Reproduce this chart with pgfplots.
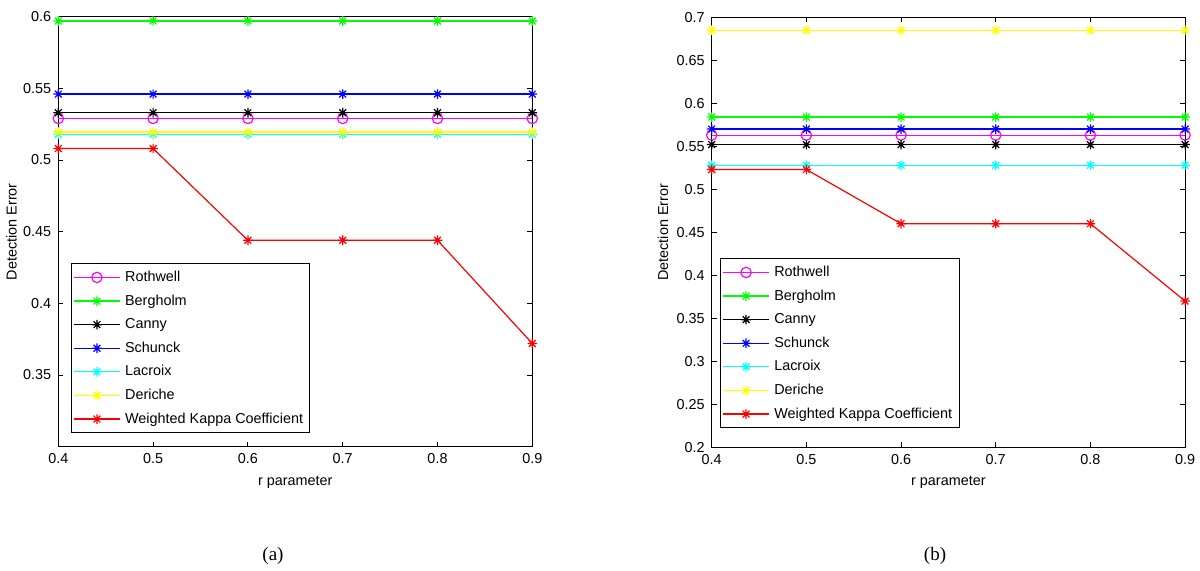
\documentclass[border=0pt]{standalone}
\usepackage{fontspec}
\setmainfont{Liberation Sans}
\newfontfamily\capfont{Liberation Serif}
\usepackage{pgfplots}
\pgfplotsset{compat=1.18}

\pgfdeclareplotmark{mstar}{%
  \pgfpathmoveto{\pgfqpoint{-\pgfplotmarksize}{0pt}}\pgfpathlineto{\pgfqpoint{\pgfplotmarksize}{0pt}}%
  \pgfpathmoveto{\pgfqpoint{0pt}{-\pgfplotmarksize}}\pgfpathlineto{\pgfqpoint{0pt}{\pgfplotmarksize}}%
  \pgfpathmoveto{\pgfqpoint{-0.707\pgfplotmarksize}{-0.707\pgfplotmarksize}}\pgfpathlineto{\pgfqpoint{0.707\pgfplotmarksize}{0.707\pgfplotmarksize}}%
  \pgfpathmoveto{\pgfqpoint{-0.707\pgfplotmarksize}{0.707\pgfplotmarksize}}\pgfpathlineto{\pgfqpoint{0.707\pgfplotmarksize}{-0.707\pgfplotmarksize}}%
  \pgfusepathqstroke}

\definecolor{mmag}{RGB}{255,0,255}
\definecolor{mgreen}{RGB}{0,255,0}
\definecolor{mblue}{RGB}{0,0,255}
\definecolor{mcyan}{RGB}{0,255,255}
\definecolor{myellow}{RGB}{255,255,0}
\definecolor{mred}{RGB}{255,0,0}

\pgfplotsset{mystyle/.style={
  scale only axis, width=237pt, height=215pt,
  xmin=0.4, xmax=0.9,
  xtick={0.4,0.5,0.6,0.7,0.8,0.9},
  tick align=inside, major tick length=2.5pt,
  tick label style={font=\fontsize{7.2}{8.6}\selectfont},
  /pgf/number format/assume math mode=true,
  /pgf/number format/fixed,
  label style={font=\fontsize{7.2}{8.6}\selectfont},
  xlabel={r parameter}, ylabel={Detection Error},
  xlabel style={at={(axis description cs:0.5,-0.082)}, anchor=center},
  clip=false,
  axis line style={line width=0.6pt},
  every tick/.style={black, line width=0.5pt},
  legend cell align=left,
  legend style={font=\fontsize{7.2}{8.6}\selectfont, anchor=south west, draw=black, line width=0.5pt,
    nodes={text height=5.5pt, text depth=1.5pt, inner sep=2.4pt}, row sep=0pt, inner sep=1pt},
  legend image code/.code={\draw[mark repeat=2,mark phase=2,#1] plot coordinates {(0cm,0cm) (0.4cm,0cm) (0.8cm,0cm)};},
  every axis plot/.append style={line width=0.6pt, mark size=2.4pt},
}}

\begin{document}
\begin{tikzpicture}[x=1pt,y=1pt]
\useasboundingbox (0,0) rectangle (600pt,285.5pt);

% ---------- (a) ----------
\begin{axis}[mystyle,
  at={(29.15pt,62.15pt)}, anchor=south west,
  ymin=0.3, ymax=0.6,
  ytick={0.35,0.4,0.45,0.5,0.55,0.6},
  yticklabels={0.35,0.4,0.45,0.5,0.55,0.6},
  xticklabels={0.4,0.5,0.6,0.7,0.8,0.9},
  ylabel style={at={(axis description cs:-0.099,0.5)}, anchor=center},
  legend style={at={(axis description cs:0.027,0.031)}},
]
\addplot[color=mmag, mark=o, mark size=2.6pt] coordinates {(0.4,0.529) (0.5,0.529) (0.6,0.529) (0.7,0.529) (0.8,0.529) (0.9,0.529)};
\addlegendentry{Rothwell}
\addplot[color=mgreen, mark=mstar] coordinates {(0.4,0.597) (0.5,0.597) (0.6,0.597) (0.7,0.597) (0.8,0.597) (0.9,0.597)};
\addlegendentry{Bergholm}
\addplot[color=black, mark=mstar] coordinates {(0.4,0.533) (0.5,0.533) (0.6,0.533) (0.7,0.533) (0.8,0.533) (0.9,0.533)};
\addlegendentry{Canny}
\addplot[color=mblue, mark=mstar] coordinates {(0.4,0.546) (0.5,0.546) (0.6,0.546) (0.7,0.546) (0.8,0.546) (0.9,0.546)};
\addlegendentry{Schunck}
\addplot[color=mcyan, mark=mstar] coordinates {(0.4,0.518) (0.5,0.518) (0.6,0.518) (0.7,0.518) (0.8,0.518) (0.9,0.518)};
\addlegendentry{Lacroix}
\addplot[color=myellow, mark=mstar] coordinates {(0.4,0.5195) (0.5,0.5195) (0.6,0.5195) (0.7,0.5195) (0.8,0.5195) (0.9,0.5195)};
\addlegendentry{Deriche}
\addplot[color=mred, mark=mstar] coordinates {(0.4,0.508) (0.5,0.508) (0.6,0.444) (0.7,0.444) (0.8,0.444) (0.9,0.372)};
\addlegendentry{Weighted Kappa Coefficient}
\end{axis}

% ---------- (b) ----------
\begin{axis}[mystyle,
  at={(355.85pt,61.85pt)}, anchor=south west,
  width=236.7pt,
  ymin=0.2, ymax=0.7,
  ytick={0.2,0.25,0.3,0.35,0.4,0.45,0.5,0.55,0.6,0.65,0.7},
  yticklabels={0.2,0.25,0.3,0.35,0.4,0.45,0.5,0.55,0.6,0.65,0.7},
  xticklabels={0.4,0.5,0.6,0.7,0.8,0.9},
  ylabel style={at={(axis description cs:-0.103,0.5)}, anchor=center},
  legend style={at={(axis description cs:0.018,0.044)}},
]
\addplot[color=mmag, mark=o, mark size=2.6pt] coordinates {(0.4,0.563) (0.5,0.563) (0.6,0.563) (0.7,0.563) (0.8,0.563) (0.9,0.563)};
\addlegendentry{Rothwell}
\addplot[color=mgreen, mark=mstar] coordinates {(0.4,0.584) (0.5,0.584) (0.6,0.584) (0.7,0.584) (0.8,0.584) (0.9,0.584)};
\addlegendentry{Bergholm}
\addplot[color=black, mark=mstar] coordinates {(0.4,0.552) (0.5,0.552) (0.6,0.552) (0.7,0.552) (0.8,0.552) (0.9,0.552)};
\addlegendentry{Canny}
\addplot[color=mblue, mark=mstar] coordinates {(0.4,0.570) (0.5,0.570) (0.6,0.570) (0.7,0.570) (0.8,0.570) (0.9,0.570)};
\addlegendentry{Schunck}
\addplot[color=mcyan, mark=mstar] coordinates {(0.4,0.528) (0.5,0.528) (0.6,0.528) (0.7,0.528) (0.8,0.528) (0.9,0.528)};
\addlegendentry{Lacroix}
\addplot[color=myellow, mark=mstar] coordinates {(0.4,0.685) (0.5,0.685) (0.6,0.685) (0.7,0.685) (0.8,0.685) (0.9,0.685)};
\addlegendentry{Deriche}
\addplot[color=mred, mark=mstar] coordinates {(0.4,0.523) (0.5,0.523) (0.6,0.460) (0.7,0.460) (0.8,0.460) (0.9,0.370)};
\addlegendentry{Weighted Kappa Coefficient}
\end{axis}

\node[font=\capfont\fontsize{9.5}{11}\selectfont] at (136.5pt,7.3pt) {(a)};
\node[font=\capfont\fontsize{9.5}{11}\selectfont] at (467.5pt,7.3pt) {(b)};
\end{tikzpicture}
\end{document}
